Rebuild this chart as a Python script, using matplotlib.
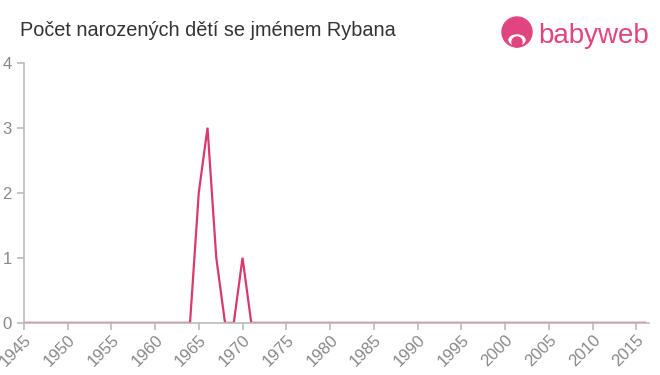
import matplotlib.pyplot as plt
from matplotlib.patches import Circle, Ellipse

# data
years = list(range(1945, 2017))
counts = [0] * len(years)
births = {1965: 2, 1966: 3, 1967: 1, 1970: 1}
for y, c in births.items():
    counts[years.index(y)] = c

x_ticks = list(range(1945, 2016, 5))
y_ticks = [0, 1, 2, 3, 4]

line_color = '#d93a6b'
axis_color = '#bbbbbb'
text_color = '#888888'

plt.rcParams['font.family'] = ['Liberation Sans', 'DejaVu Sans']

fig = plt.figure(figsize=(6.6, 3.75), dpi=100)
ax = fig.add_axes([0.036, 0.139, 0.948, 0.694])

ax.plot(years, counts, color=line_color, linewidth=1.6, solid_joinstyle='miter')

ax.set_xlim(1945, 2016.5)
ax.set_ylim(0, 4)
ax.set_xticks(x_ticks)
ax.set_xticklabels([str(t) for t in x_ticks], rotation=45, ha='right',
                   rotation_mode='anchor')
ax.set_yticks(y_ticks)

for side in ['top', 'right']:
    ax.spines[side].set_visible(False)
for side in ['left', 'bottom']:
    ax.spines[side].set_color(axis_color)
    ax.spines[side].set_linewidth(1.2)
ax.tick_params(axis='both', colors=axis_color, labelcolor=text_color,
               labelsize=12, length=5, width=1.2)
ax.tick_params(axis='x', pad=2)

fig.text(0.03, 0.918, 'Počet narozených dětí se jménem Rybana',
         fontsize=14.3, color='#333333', ha='left', va='center')

# logo
logo_color = '#e0457f'
fig.text(0.816, 0.905, 'babyweb', fontsize=20, color=logo_color,
         ha='left', va='center')
# circle icon in pixel units so it stays round
fig.patches.append(Circle((517, 343), 15, transform=None,
                          color=logo_color, figure=fig))
fig.patches.append(Ellipse((517, 335), 16, 10, transform=None,
                           color='white', figure=fig))
fig.patches.append(Circle((517, 333), 5, transform=None,
                          color=logo_color, figure=fig))

fig.savefig('out.png', dpi=100)
